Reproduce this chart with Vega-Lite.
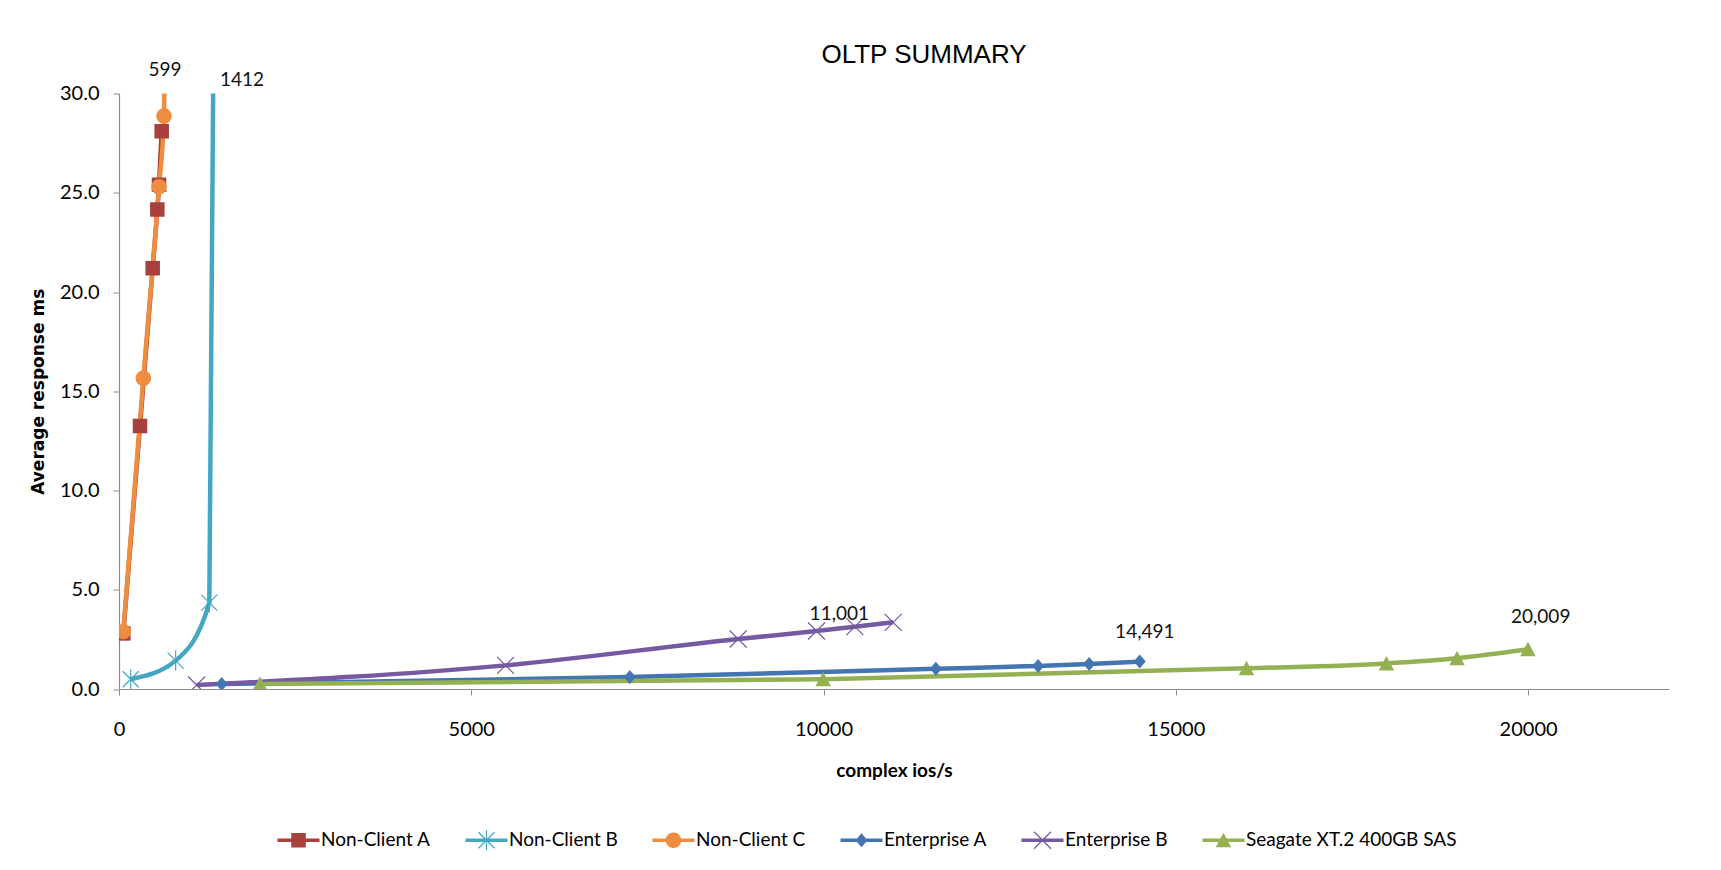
{
  "$schema": "https://vega.github.io/schema/vega-lite/v6.json",
  "width": 1550,
  "height": 595.5,
  "autosize": {"type": "none"},
  "padding": {"left": 119, "top": 93.5, "right": 52, "bottom": 181},
  "background": "white",
  "title": {"text": "OLTP SUMMARY", "font": "Liberation Sans", "fontSize": 26, "fontWeight": "normal", "color": "#000", "anchor": "middle", "dx": 30, "offset": -7},
  "config": {"view": {"stroke": null}},
  "datasets": {
    "pts": [
      {"series": "Non-Client A", "x": 61, "y": 2.8},
      {"series": "Non-Client A", "x": 298, "y": 13.25},
      {"series": "Non-Client A", "x": 478, "y": 21.2},
      {"series": "Non-Client A", "x": 544, "y": 24.15},
      {"series": "Non-Client A", "x": 568, "y": 25.4},
      {"series": "Non-Client A", "x": 606, "y": 28.1},
      {"series": "Non-Client B", "x": 166, "y": 0.49},
      {"series": "Non-Client B", "x": 804, "y": 1.43},
      {"series": "Non-Client B", "x": 1282, "y": 4.35},
      {"series": "Non-Client B", "x": 1400, "y": 60},
      {"series": "Non-Client C", "x": 61, "y": 2.9},
      {"series": "Non-Client C", "x": 345, "y": 15.65},
      {"series": "Non-Client C", "x": 568, "y": 25.3},
      {"series": "Non-Client C", "x": 639, "y": 28.87},
      {"series": "Non-Client C", "x": 700, "y": 45},
      {"series": "Enterprise A", "x": 1457, "y": 0.25},
      {"series": "Enterprise A", "x": 7250, "y": 0.6},
      {"series": "Enterprise A", "x": 11594, "y": 1.02},
      {"series": "Enterprise A", "x": 13046, "y": 1.16},
      {"series": "Enterprise A", "x": 13769, "y": 1.26},
      {"series": "Enterprise A", "x": 14488, "y": 1.38},
      {"series": "Enterprise B", "x": 1102, "y": 0.2},
      {"series": "Enterprise B", "x": 5487, "y": 1.19},
      {"series": "Enterprise B", "x": 8788, "y": 2.52},
      {"series": "Enterprise B", "x": 9900, "y": 2.92},
      {"series": "Enterprise B", "x": 10444, "y": 3.14},
      {"series": "Enterprise B", "x": 10988, "y": 3.36},
      {"series": "Seagate XT.2 400GB SAS", "x": 2001, "y": 0.25},
      {"series": "Seagate XT.2 400GB SAS", "x": 9994, "y": 0.49},
      {"series": "Seagate XT.2 400GB SAS", "x": 16003, "y": 1.04},
      {"series": "Seagate XT.2 400GB SAS", "x": 17989, "y": 1.29},
      {"series": "Seagate XT.2 400GB SAS", "x": 18991, "y": 1.55},
      {"series": "Seagate XT.2 400GB SAS", "x": 19998, "y": 2.0}
    ],
    "labels": [
      {"x": 653, "y": 31.2, "label": "599"},
      {"x": 1745, "y": 30.7, "label": "1412"},
      {"x": 10224, "y": 3.8, "label": "11,001"},
      {"x": 14560, "y": 2.85, "label": "14,491"},
      {"x": 20179, "y": 3.64, "label": "20,009"}
    ]
  },
  "layer": [
    {
      "data": {"name": "pts"},
      "mark": {"type": "line", "interpolate": "monotone", "strokeWidth": 4.5, "clip": true},
      "encoding": {
        "x": {"field": "x", "type": "quantitative",
          "scale": {"domain": [0, 22000], "nice": false, "zero": false},
          "axis": {"title": "complex ios/s", "values": [0, 5000, 10000, 15000, 20000], "format": "d", "grid": false,
            "domainColor": "#8c8c8c", "tickColor": "#8c8c8c", "tickSize": 6, "domainWidth": 1.2,
            "labelFont": "Lato", "labelFontSize": 20, "labelColor": "#000", "labelPadding": 24, "labelFlush": false,
            "titleFont": "Lato", "titleFontSize": 19, "titleFontWeight": "bold", "titleColor": "#000", "titlePadding": 22}},
        "y": {"field": "y", "type": "quantitative",
          "scale": {"domain": [0, 30], "nice": false, "zero": false},
          "axis": {"title": "Average response ms", "values": [0, 5, 10, 15, 20, 25, 30], "format": ".1f", "grid": false,
            "domainColor": "#8c8c8c", "tickColor": "#8c8c8c", "tickSize": 6, "domainWidth": 1.2,
            "labelFont": "Lato", "labelFontSize": 20, "labelColor": "#000", "labelPadding": 14,
            "titleFont": "DejaVu Sans", "titleFontSize": 17, "titleFontWeight": "bold", "titleColor": "#000", "titlePadding": 12}},
        "stroke": {"field": "series", "type": "nominal", "legend": null,
          "scale": {"range": ["#4275B2", "#7659A0", "#A8403D", "#44A6C2", "#EE8C3F", "#93B152"]}}
      }
    },
    {
      "data": {"name": "pts"},
      "mark": {"type": "point", "filled": true, "size": 100, "opacity": 1, "clip": true},
      "encoding": {
        "x": {"field": "x", "type": "quantitative"},
        "y": {"field": "y", "type": "quantitative"},
        "color": {"field": "series", "type": "nominal",
          "scale": {"domain": ["Non-Client A", "Non-Client B", "Non-Client C", "Enterprise A", "Enterprise B", "Seagate XT.2 400GB SAS"],
            "range": ["#A8403D", "#44A6C2", "#EE8C3F", "#4275B2", "#7659A0", "#93B152"]},
          "legend": {"orient": "none", "legendX": 159, "legendY": 737, "direction": "horizontal", "columns": 6, "title": null,
            "symbolSize": 100, "symbolOffset": 11, "labelOffset": 13, "columnPadding": 34, "padding": 0,
            "symbolType": {"expr": "scale('shape', datum.value) + 'M-4.2,-0.35L4.2,-0.35L4.2,0.35L-4.2,0.35Z'"},
            "labelFont": "Lato", "labelFontSize": 19, "labelColor": "#000", "labelLimit": 400,
            "encode": {"symbols": {"opacity": {"value": 1}}}}},
        "shape": {"field": "series", "type": "nominal", "legend": null,
          "scale": {
            "range": [
              "M0,-1.4L1.2,0L0,1.4L-1.2,0Z",
              "M-1.615,-1.785L1.785,1.615L1.615,1.785L-1.785,-1.615ZM-1.615,1.785L-1.785,1.615L1.615,-1.785L1.785,-1.615Z",
              "M-1.45,-1.45L1.45,-1.45L1.45,1.45L-1.45,1.45Z",
              "M-1.515,-1.685L1.685,1.515L1.515,1.685L-1.685,-1.515ZM-1.515,1.685L-1.685,1.515L1.515,-1.685L1.685,-1.515ZM-0.12,-2L0.12,-2L0.12,2L-0.12,2Z",
              "M1.55,0A1.55,1.55,0,1,1,-1.55,0A1.55,1.55,0,1,1,1.55,0Z",
              "M0,-1.5L1.55,1.4L-1.55,1.4Z"]}}
      }
    },
    {
      "data": {"name": "labels"},
      "mark": {"type": "text", "font": "Lato", "fontSize": 19, "color": "#111", "align": "center", "baseline": "middle", "clip": false},
      "encoding": {
        "x": {"field": "x", "type": "quantitative"},
        "y": {"field": "y", "type": "quantitative"},
        "text": {"field": "label", "type": "nominal"}
      }
    }
  ]
}
